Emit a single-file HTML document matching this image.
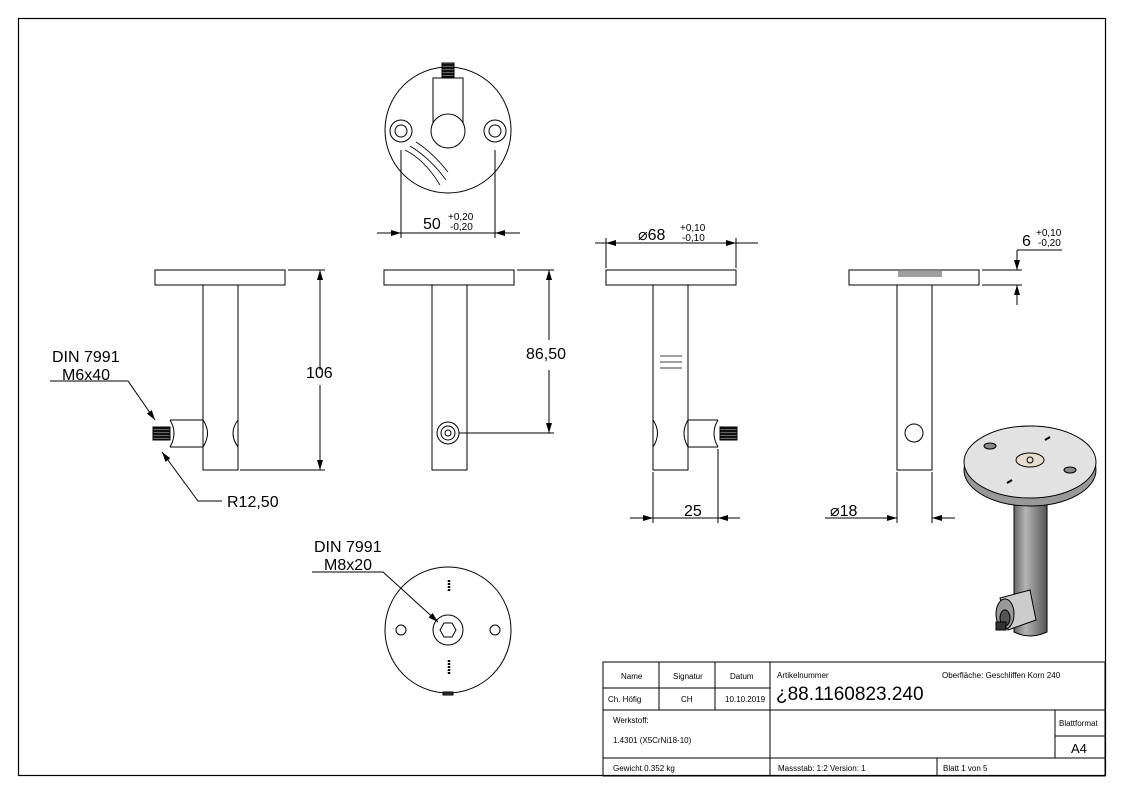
<!DOCTYPE html>
<html><head><meta charset="utf-8"><style>
html,body{margin:0;padding:0;background:#fff}
svg{display:block}
text{font-family:"Liberation Sans",sans-serif;fill:#000}
</style></head><body>
<svg width="1123" height="794" viewBox="0 0 1123 794" xmlns="http://www.w3.org/2000/svg">
<defs>
<marker id="a" markerWidth="10" markerHeight="6" refX="10" refY="3" orient="auto-start-reverse" markerUnits="userSpaceOnUse"><path d="M0,0 L10,3 L0,6z" fill="#000"/></marker>
<linearGradient id="tg" x1="0" x2="1"><stop offset="0" stop-color="#666"/><stop offset=".35" stop-color="#b5b5b5"/><stop offset="1" stop-color="#555"/></linearGradient>
<pattern id="th" width="2" height="3" patternUnits="userSpaceOnUse"><rect width="2" height="3" fill="#111"/><rect width="2" height="1" fill="#666"/></pattern>
</defs>
<rect x="18.5" y="18.5" width="1087" height="757" fill="none" stroke="#000" stroke-width="1.2"/>
<g fill="none" stroke="#000" stroke-width="1">
<!-- top view -->
<circle cx="448" cy="130" r="63"/>
<circle cx="401" cy="131" r="11"/><circle cx="401" cy="131" r="6"/>
<circle cx="495" cy="131" r="11"/><circle cx="495" cy="131" r="6"/>
<path d="M433,131 L433,78 L463,78 L463,131"/>
<circle cx="448" cy="131" r="17" fill="#fff"/>
<rect x="442" y="63" width="12" height="15" fill="url(#th)"/>
<path d="M405,150 Q425,160 440,185 M410,146 Q430,158 446,180 M416,142 Q432,152 448,172" stroke-width=".8"/>
<line x1="401" y1="150" x2="401" y2="238"/><line x1="495" y1="150" x2="495" y2="238"/>
<line x1="377" y1="233" x2="401" y2="233" marker-end="url(#a)"/>
<line x1="520" y1="233" x2="495" y2="233" marker-end="url(#a)"/>
<line x1="401" y1="233" x2="495" y2="233"/>
<!-- view1 -->
<rect x="155" y="270" width="130" height="15"/><line x1="158" y1="285" x2="282" y2="285"/>
<path d="M203,285 L203,470 L238,470 L238,285"/>
<path d="M203,420 L170,420 M203,447 L170,447 M203,420 Q212,433 203,447 M238,420 Q228,433 238,447"/>
<path d="M170,420 Q178,433 170,447"/>
<rect x="153" y="427" width="17" height="13" fill="url(#th)"/>
<line x1="240" y1="470" x2="325" y2="470"/><line x1="288" y1="270" x2="325" y2="270"/>
<line x1="320" y1="370" x2="320" y2="270" marker-end="url(#a)"/>
<line x1="320" y1="385" x2="320" y2="470" marker-end="url(#a)"/>
<path d="M50,381 L128,381 L155,420" marker-end="url(#a)"/>
<path d="M222,501 L198,501 L162,452" marker-end="url(#a)"/>
<!-- view2 -->
<rect x="384" y="270" width="130" height="15"/><line x1="387" y1="285" x2="511" y2="285"/>
<path d="M432,285 L432,470 L467,470 L467,285"/>
<circle cx="448" cy="433" r="11"/><circle cx="448" cy="433" r="7"/><circle cx="448" cy="433" r="3"/>
<line x1="459" y1="433" x2="554" y2="433"/><line x1="517" y1="270" x2="554" y2="270"/>
<line x1="549" y1="340" x2="549" y2="270" marker-end="url(#a)"/>
<line x1="549" y1="370" x2="549" y2="433" marker-end="url(#a)"/>
<!-- view3 -->
<rect x="606" y="270" width="130" height="15"/><line x1="609" y1="285" x2="733" y2="285"/>
<path d="M653,285 L653,470 L688,470 L688,285"/>
<path d="M688,420 L718,420 M688,447 L718,447 M688,420 Q680,433 688,447 M653,420 Q662,433 653,447 M718,420 Q710,433 718,447"/>
<rect x="720" y="427" width="17" height="13" fill="url(#th)"/>
<path d="M660,356 h22 M660,362 h22 M660,368 h22" stroke-width=".8"/>
<line x1="606" y1="238" x2="606" y2="268"/><line x1="736" y1="238" x2="736" y2="268"/>
<line x1="595" y1="243" x2="758" y2="243"/>
<line x1="640" y1="243" x2="606" y2="243" marker-end="url(#a)"/>
<line x1="700" y1="243" x2="736" y2="243" marker-end="url(#a)"/>
<line x1="653" y1="472" x2="653" y2="523"/><line x1="718" y1="449" x2="718" y2="523"/>
<line x1="630" y1="518" x2="653" y2="518" marker-end="url(#a)"/>
<line x1="740" y1="518" x2="718" y2="518" marker-end="url(#a)"/>
<line x1="653" y1="518" x2="718" y2="518"/>
<!-- view4 -->
<rect x="849" y="270" width="130" height="15"/><line x1="852" y1="285" x2="976" y2="285"/>
<path d="M898,272 h44 M898,274 h44 M898,276 h44" stroke-width=".8"/>
<path d="M897,285 L897,470 L932,470 L932,285"/>
<circle cx="914" cy="433" r="9"/>
<line x1="982" y1="270" x2="1022" y2="270"/><line x1="982" y1="285" x2="1022" y2="285"/>
<line x1="1017" y1="250" x2="1017" y2="270" marker-end="url(#a)"/>
<line x1="1017" y1="305" x2="1017" y2="285" marker-end="url(#a)"/>
<line x1="1017" y1="250" x2="1062" y2="250"/>
<line x1="897" y1="472" x2="897" y2="523"/><line x1="932" y1="472" x2="932" y2="523"/>
<line x1="825" y1="518" x2="897" y2="518" marker-end="url(#a)"/>
<line x1="955" y1="518" x2="932" y2="518" marker-end="url(#a)"/>
<!-- bottom view -->
<circle cx="448" cy="630" r="63"/>
<circle cx="401" cy="630" r="5"/><circle cx="495" cy="630" r="5"/>
<circle cx="448" cy="630" r="15"/>
<polygon points="456,630 452,637 444,637 440,630 444,623 452,623"/>
<path d="M449,580 v12 M449,660 v14" stroke-width="2.5" stroke-dasharray="2 1"/>
<rect x="443" y="692" width="10" height="3" fill="#333"/>
<path d="M312,572 L383,572 L438,622" marker-end="url(#a)"/>
<!-- iso -->
<path d="M1014,500 L1014,632 Q1030,640 1047,632 L1047,500" fill="url(#tg)"/>
<ellipse cx="1030" cy="470" rx="66" ry="36" fill="#999"/>
<ellipse cx="1030" cy="462" rx="66" ry="36" fill="#e2e2e2"/>
<ellipse cx="1030" cy="460" rx="14" ry="7" fill="#e8ddd0"/>
<circle cx="1030" cy="460" r="3"/>
<ellipse cx="990" cy="446" rx="6" ry="3" fill="#888"/>
<ellipse cx="1070" cy="470" rx="6" ry="3" fill="#888"/>
<path d="M1045,440 l5,-3 M1012,480 l-5,3" stroke-width="2"/>
<path d="M1000,598 L1030,590 L1036,620 L1008,630z" fill="#ccc"/>
<ellipse cx="1005" cy="614" rx="9" ry="15" fill="#999"/>
<ellipse cx="1005" cy="618" rx="5" ry="8" fill="#555"/>
<rect x="996" y="622" width="10" height="8" fill="#333"/>
<!-- title block -->
<rect x="603" y="662" width="502" height="114"/>
<line x1="603" y1="710" x2="1105" y2="710"/><line x1="603" y1="758" x2="1105" y2="758"/>
<line x1="603" y1="688" x2="770" y2="688"/>
<line x1="659" y1="662" x2="659" y2="710"/><line x1="715" y1="662" x2="715" y2="710"/>
<line x1="770" y1="662" x2="770" y2="776"/>
<line x1="1055" y1="710" x2="1055" y2="758"/><line x1="1055" y1="736" x2="1105" y2="736"/>
<line x1="937" y1="758" x2="937" y2="776"/>
</g>
<g font-size="16">
<text x="423" y="229">50</text><text x="448" y="220" font-size="10">+0,20</text><text x="450" y="230" font-size="10">-0,20</text>
<text x="638" y="240">⌀68</text><text x="680" y="231" font-size="10">+0,10</text><text x="682" y="241" font-size="10">-0,10</text>
<text x="1022" y="246">6</text><text x="1036" y="236" font-size="10">+0,10</text><text x="1038" y="246" font-size="10">-0,20</text>
<text x="52" y="362">DIN 7991</text><text x="62" y="380">M6x40</text>
<text x="306" y="378">106</text>
<text x="526" y="359">86,50</text>
<text x="227" y="507">R12,50</text>
<text x="684" y="516">25</text>
<text x="830" y="516">⌀18</text>
<text x="314" y="552">DIN 7991</text><text x="324" y="570">M8x20</text>
</g>
<g font-size="8">
<text x="621" y="679">Name</text><text x="673" y="679">Signatur</text><text x="730" y="679">Datum</text>
<text x="608" y="702">Ch. Höfig</text><text x="681" y="702">CH</text><text x="725" y="702">10.10.2019</text>
<text x="777" y="678">Artikelnummer</text><text x="942" y="678">Oberfläche:  Geschliffen Korn 240</text>
<text x="776" y="700" font-size="19">¿88.1160823.240</text>
<text x="613" y="723">Werkstoff:</text><text x="613" y="743">1.4301 (X5CrNi18-10)</text>
<text x="1059" y="726">Blattformat</text><text x="1071" y="753" font-size="13">A4</text>
<text x="613" y="771">Gewicht 0.352 kg</text><text x="778" y="771">Massstab: 1:2      Version: 1</text><text x="943" y="771">Blatt 1 von 5</text>
</g>
</svg>
</body></html>
